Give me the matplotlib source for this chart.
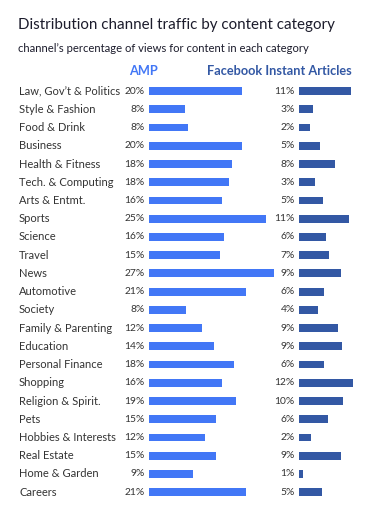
import numpy as np
import matplotlib.pyplot as plt

# ==========================================================
# Data
# ==========================================================

categories = [
    "Law, Gov\u2019t & Politics", "Style & Fashion", "Food & Drink", "Business",
    "Health & Fitness", "Tech. & Computing", "Arts & Entmt.", "Sports",
    "Science", "Travel", "News", "Automotive", "Society",
    "Family & Parenting", "Education", "Personal Finance", "Shopping",
    "Religion & Spirit.", "Pets", "Hobbies & Interests", "Real Estate",
    "Home & Garden", "Careers",
]

amp_pct = [20.1, 7.8, 8.4, 20.2, 18.0, 17.4, 15.7, 25.4, 16.3, 15.4, 27.0,
           21.1, 8.0, 11.5, 14.1, 18.3, 15.7, 18.9, 14.6, 12.2, 14.6, 9.6, 21.1]

fb_pct = [11.2, 3.0, 2.3, 4.5, 7.7, 3.4, 5.1, 10.9, 5.8, 6.6, 9.0,
          5.5, 4.2, 8.5, 9.3, 5.5, 11.7, 9.5, 6.2, 2.5, 9.0, 0.9, 4.9]

amp_labels = ["20%", "8%", "8%", "20%", "18%", "18%", "16%", "25%", "16%",
              "15%", "27%", "21%", "8%", "12%", "14%", "18%", "16%", "19%",
              "15%", "12%", "15%", "9%", "21%"]

fb_labels = ["11%", "3%", "2%", "5%", "8%", "3%", "5%", "11%", "6%", "7%",
             "9%", "6%", "4%", "9%", "9%", "6%", "12%", "10%", "6%", "2%",
             "9%", "1%", "5%"]

# ==========================================================
# Style
# ==========================================================

AMP_COLOR = "#4277f6"
FB_COLOR = "#3358a4"
TEXT_COLOR = "#1c1c2c"
LABEL_COLOR = "#333333"
PX_PER_PCT = 4.62

W, H = 377, 532
plt.rcParams["font.family"] = ["Lato", "DejaVu Sans"]

fig = plt.figure(figsize=(W / 100, H / 100), dpi=100)


def px_axes(left, top, width, height):
    # axes placed in pixel coordinates measured from the top-left corner
    return fig.add_axes([left / W, 1 - (top + height) / H, width / W, height / H])


n = len(categories)
row_top = 82.0
row_step = 18.23
plot_height = row_step * n
y = np.arange(n)

amp_width = 140
fb_width = 70
ax_amp = px_axes(149, row_top, amp_width, plot_height)
ax_fb = px_axes(299, row_top, fb_width, plot_height)

for ax, vals, labels, color, width in [
    (ax_amp, amp_pct, amp_labels, AMP_COLOR, amp_width),
    (ax_fb, fb_pct, fb_labels, FB_COLOR, fb_width),
]:
    ax.barh(y, vals, height=0.43, color=color)
    ax.set_xlim(0, width / PX_PER_PCT)
    ax.set_ylim(n - 0.5, -0.5)
    ax.axis("off")
    for i, lab in enumerate(labels):
        ax.annotate(lab, xy=(0, i), xytext=(-3, 0), textcoords="offset points",
                    ha="right", va="center", fontsize=7.4, color=LABEL_COLOR)

for i, cat in enumerate(categories):
    ax_amp.annotate(cat, xy=(0, i), xycoords=("axes fraction", "data"),
                    xytext=(19 - 149, 0), textcoords="offset pixels",
                    ha="left", va="center", fontsize=8.0, color=LABEL_COLOR)

fig.text(18 / W, 1 - 25 / H, "Distribution channel traffic by content category",
         fontsize=10.9, color=TEXT_COLOR, ha="left", va="center")
fig.text(18 / W, 1 - 48 / H, "channel\u2019s percentage of views for content in each category",
         fontsize=8.1, color=TEXT_COLOR, ha="left", va="center")
fig.text(143 / W, 1 - 71 / H, "AMP", fontsize=9.2, fontweight="bold",
         color=AMP_COLOR, ha="center", va="center")
fig.text(352 / W, 1 - 71 / H, "Facebook Instant Articles", fontsize=9.2,
         fontweight="bold", color=FB_COLOR, ha="right", va="center")

fig.savefig("out.png", dpi=100, facecolor="white")
